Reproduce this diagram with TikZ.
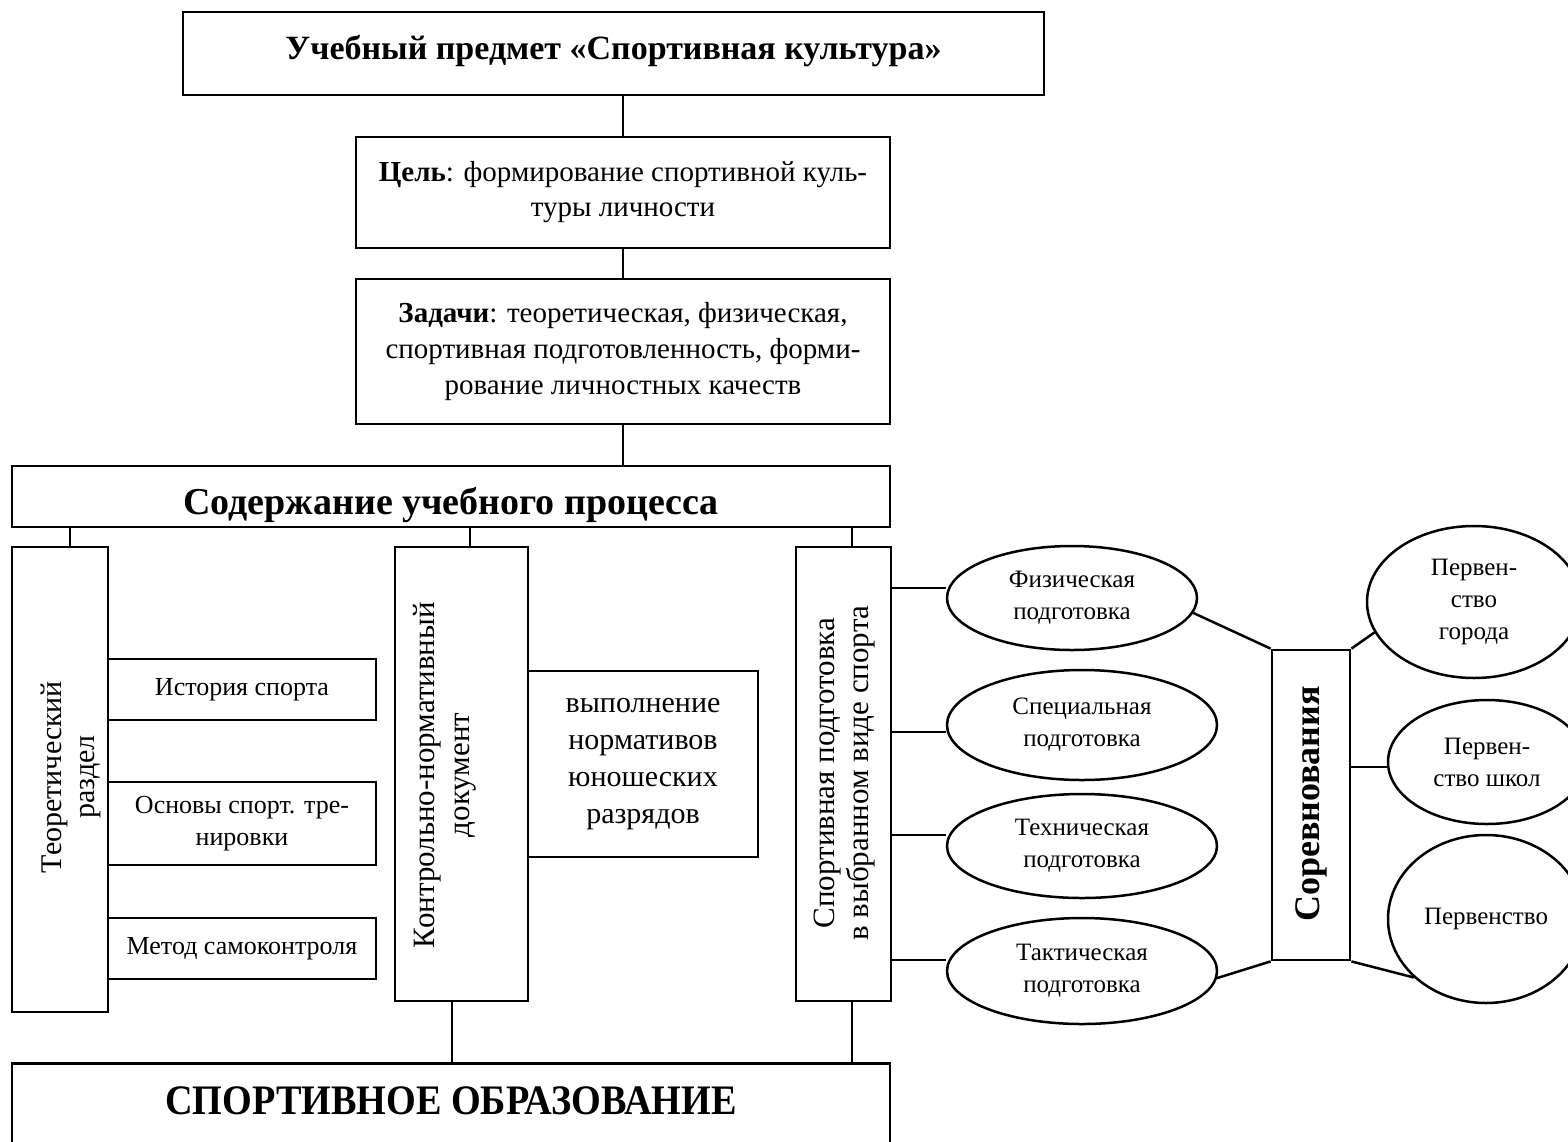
\documentclass[tikz,border=0pt]{standalone}
\usepackage{fontspec}
\setmainfont{Liberation Serif}
\usetikzlibrary{shapes.geometric}
\begin{document}
\begin{tikzpicture}[x=0.5pt,y=-0.5pt,
  box/.style={draw, line width=1.4pt, inner sep=0pt, align=center},
  smallbox/.style={box, minimum width=134pt, font=\fontsize{13pt}{16pt}\selectfont},
  oval/.style={draw, ellipse, line width=1.25pt, inner sep=0pt, align=center, font=\fontsize{12.5pt}{16pt}\selectfont},
  vtext/.style={rotate=90, align=center, inner sep=0pt},
  link/.style={line width=1.25pt}]
\clip (0,0) rectangle (1568,1141);
\fill[white] (0,0) rectangle (1568,1141);

% top chain
\node[box, minimum width=430.5pt, minimum height=41.5pt, text height=12pt, text depth=6pt, font=\bfseries\fontsize{17pt}{20pt}\selectfont] (title) at (613.5,53.5) {Учебный предмет «Спортивная культура»};
\node[box, minimum width=267pt, minimum height=55.5pt, font=\fontsize{14.5pt}{17.5pt}\selectfont] (cel) at (623,192.5) {\textbf{Цель}: формирование спортивной куль-\\туры личности};
\node[box, minimum width=267pt, minimum height=72.5pt, font=\fontsize{14.5pt}{18pt}\selectfont] (zad) at (623,351.5) {\textbf{Задачи}: теоретическая, физическая,\\спортивная подготовленность, форми-\\рование личностных качеств};
\node[box, minimum width=439pt, minimum height=30.5pt, text height=19pt, text depth=1pt, font=\bfseries\fontsize{19pt}{22pt}\selectfont] (sod) at (451,496.5) {Содержание учебного процесса};

% theoretical section
\node[box, minimum width=48pt, minimum height=232.5pt] (teo) at (60,779.5) {};
\node[vtext, font=\fontsize{15pt}{16.5pt}\selectfont] (teoT) at (71,777) {Теоретический\\раздел};
\node[smallbox, minimum height=30.5pt] (ist) at (242,689.5) {История спорта};
\node[smallbox, minimum height=41.5pt] (osn) at (242,823.5) {Основы спорт. тре-\\нировки};
\node[smallbox, minimum height=30.5pt] (met) at (242,948.5) {Метод самоконтроля};

% normative document
\node[box, minimum width=66.5pt, minimum height=227pt] (kon) at (461.5,774) {};
\node[vtext, font=\fontsize{15.5pt}{17.5pt}\selectfont] (konT) at (445,775) {Контрольно-нормативный\\документ};
\node[box, minimum width=115pt, minimum height=93pt, font=\fontsize{15pt}{18.5pt}\selectfont] (vyp) at (643,764) {выполнение\\нормативов\\юношеских\\разрядов};

% sport training
\node[box, minimum width=47.5pt, minimum height=227pt] (spo) at (843.5,774) {};
\node[vtext, font=\fontsize{15.5pt}{17pt}\selectfont] (spoT) at (845,773) {Спортивная подготовка\\в выбранном виде спорта};

\node[oval, minimum width=125pt, minimum height=52pt] (fiz) at (1072,598) {Физическая\\подготовка};
\node[oval, minimum width=135pt, minimum height=55pt] (spe) at (1082,725) {Специальная\\подготовка};
\node[oval, minimum width=135pt, minimum height=52pt] (teh) at (1082,846) {Техническая\\подготовка};
\node[oval, minimum width=135pt, minimum height=53pt] (tak) at (1082,971) {Тактическая\\подготовка};

% competitions
\node[box, minimum width=39pt, minimum height=155pt] (sor) at (1311,805) {};
\node[vtext, font=\bfseries\fontsize{18pt}{20pt}\selectfont] (sorT) at (1311,804) {Соревнования};
\node[oval, minimum width=107pt, minimum height=76pt] (gor) at (1474,602) {Первен-\\ство\\города};
\node[oval, minimum width=99pt, minimum height=62pt] (shk) at (1487,762) {Первен-\\ство школ};
\node[oval, minimum width=98pt, minimum height=84pt] (per) at (1486,919) {Первенство};

% bottom
\node[box, anchor=north, minimum width=439pt, minimum height=50pt, text height=13.8pt, text depth=13pt, font=\bfseries\fontsize{21pt}{24pt}\selectfont] (obr) at (451,1062) {\scalebox{0.91}[1]{СПОРТИВНОЕ ОБРАЗОВАНИЕ}};

% connectors
\draw[link] (title.south -| cel.north) -- (cel.north);
\draw[link] (cel.south) -- (zad.north);
\draw[link] (zad.south) -- (zad.south |- sod.north);
\draw[link] ([xshift=5pt]teo.north) -- ([xshift=5pt]teo.north |- sod.south);
\draw[link] ([xshift=4.25pt]kon.north) -- ([xshift=4.25pt]kon.north |- sod.south);
\draw[link] ([xshift=4.25pt]spo.north) -- ([xshift=4.25pt]spo.north |- sod.south);
\draw[link] ([xshift=-4.75pt]kon.south) -- ([xshift=-4.75pt]kon.south |- obr.north);
\draw[link] ([xshift=4.25pt]spo.south) -- ([xshift=4.25pt]spo.south |- obr.north);

\draw[link] ([yshift=5pt]fiz.west -| spo.east) -- ([yshift=5pt]fiz.west);
\draw[link] ([yshift=-3.5pt]spe.west -| spo.east) -- ([yshift=-3.5pt]spe.west);
\draw[link] ([yshift=5.5pt]teh.west -| spo.east) -- ([yshift=5.5pt]teh.west);
\draw[link] ([yshift=5.5pt]tak.west -| spo.east) -- ([yshift=5.5pt]tak.west);

\draw[link] (fiz.-7) -- (sor.north west);
\draw[link] (tak.-3) -- (sor.south west);
\draw[link] (sor.north east) -- (gor.197);
\draw[link] ([yshift=-2.5pt]shk.west -| sor.east) -- ([yshift=-2.5pt]shk.west);
\draw[link] (sor.south east) -- (per.219);
\end{tikzpicture}
\end{document}
